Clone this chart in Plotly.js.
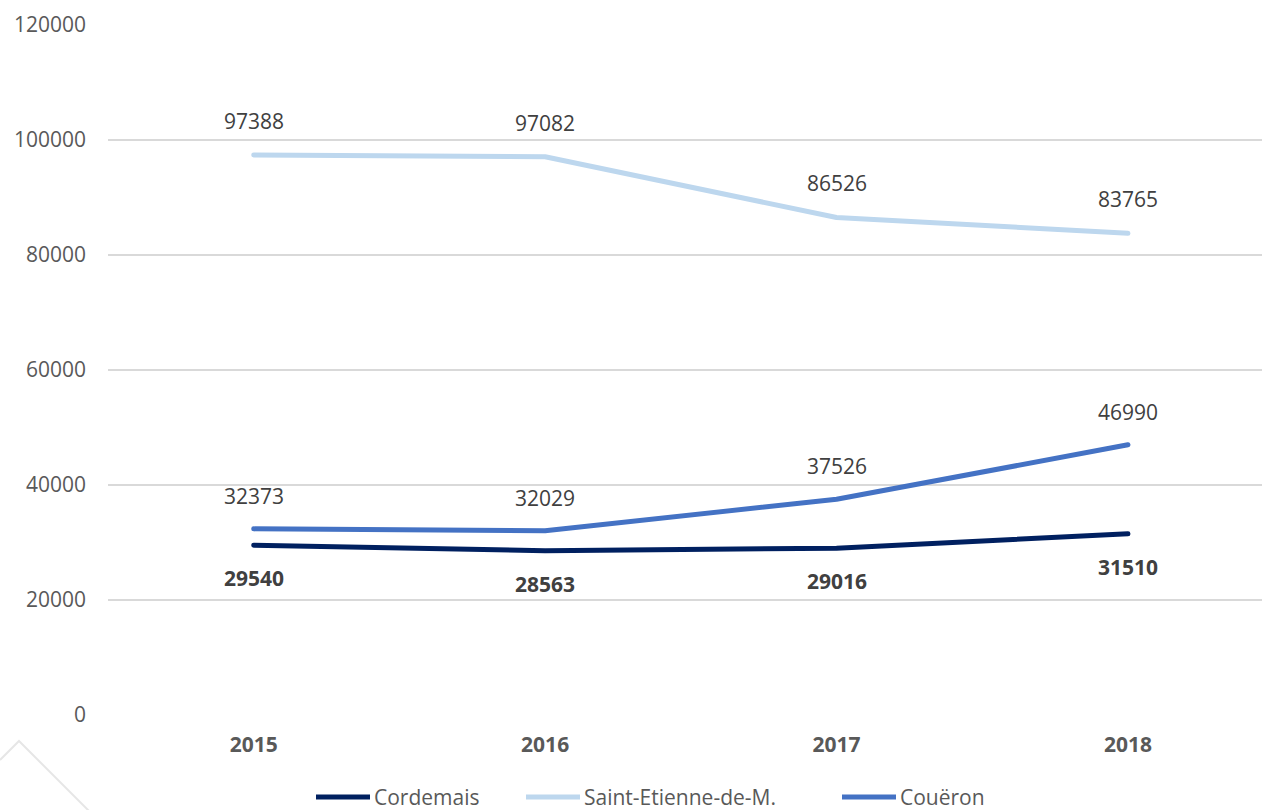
<!DOCTYPE html>
<html>
<head>
<meta charset="utf-8">
<script src="https://cdn.plot.ly/plotly-3.0.1.min.js"></script>
<style>
html,body{margin:0;padding:0;background:#fff;}
#chart{width:1262px;height:810px;}
.js-line{stroke-linecap:round !important;stroke-linejoin:round !important;}
</style>
</head>
<body>
<div id="chart"></div>
<script>
const years = ['2015', '2016', '2017', '2018'];
const cordemais = [29540, 28563, 29016, 31510];
const saintEtienne = [97388, 97082, 86526, 83765];
const coueron = [32373, 32029, 37526, 46990];
const seriesNames = ['Cordemais', 'Saint-Etienne-de-M.', 'Couëron'];
const seriesColors = ['#002060', '#BDD7EE', '#4472C4'];

const FONT = 'Open Sans, Noto Sans, sans-serif';
const seriesData = [cordemais, saintEtienne, coueron];

const traces = seriesData.map((vals, i) => ({
  type: 'scatter',
  mode: 'lines',
  x: years,
  y: vals,
  name: seriesNames[i],
  line: {color: seriesColors[i], width: 5},
  showlegend: false
}));

const annotations = [];
function addLabels(vals, shift, bold) {
  vals.forEach((v, j) => {
    annotations.push({
      x: j, y: v, xref: 'x', yref: 'y',
      text: bold ? '<b>' + v + '</b>' : String(v),
      showarrow: false, yshift: shift,
      font: {family: FONT, size: 21, color: '#404040'}
    });
  });
}
addLabels(saintEtienne, 34, false);
addLabels(coueron, 33, false);
addLabels(cordemais, -33, true);

// custom legend (pixel positions converted to paper coords)
const plotL = 108, plotW = 1154, plotT = 25, plotH = 690;
const px = v => (v - plotL) / plotW;
const py = v => (plotT + plotH - v) / plotH;
const legendLineStart = [314, 524, 840];
const shapes = [];
seriesNames.forEach((n, i) => {
  const x0 = legendLineStart[i];
  shapes.push({type: 'line', xref: 'paper', yref: 'paper',
    x0: px(x0 + 2), x1: px(x0 + 56), y0: py(797), y1: py(797),
    line: {color: seriesColors[i], width: 5}});
  annotations.push({xref: 'paper', yref: 'paper', x: px(x0 + 58), y: py(797),
    xanchor: 'left', yanchor: 'middle', showarrow: false, text: n,
    font: {family: FONT, size: 21, color: '#595959'}});
});
shapes.push({
  type: 'path', xref: 'paper', yref: 'paper',
  path: 'M ' + px(0) + ' ' + py(760) + ' L ' + px(19) + ' ' + py(741) + ' L ' + px(90) + ' ' + py(812),
  line: {color: '#e6e6e6', width: 2}
});

const layout = {
  width: 1262, height: 810,
  margin: {l: 108, r: 0, t: 25, b: 95},
  paper_bgcolor: '#ffffff', plot_bgcolor: '#ffffff',
  showlegend: false,
  xaxis: {
    type: 'category', range: [-0.5, 3.46],
    showgrid: false, zeroline: false, showline: false,
    ticks: '', ticklabelstandoff: 15,
    tickfont: {family: FONT, size: 21, color: '#595959', weight: 'bold'}
  },
  yaxis: {
    range: [0, 120000], dtick: 20000, tick0: 0,
    showgrid: true, gridcolor: '#d9d9d9', gridwidth: 1.5,
    zeroline: false, showline: false, ticks: '',
    ticklabelstandoff: 21, tickformat: 'd',
    tickfont: {family: FONT, size: 21, color: '#595959'}
  },
  annotations: annotations,
  shapes: shapes
};

Plotly.newPlot('chart', traces, layout, {displayModeBar: false, staticPlot: true});
</script>
</body>
</html>
